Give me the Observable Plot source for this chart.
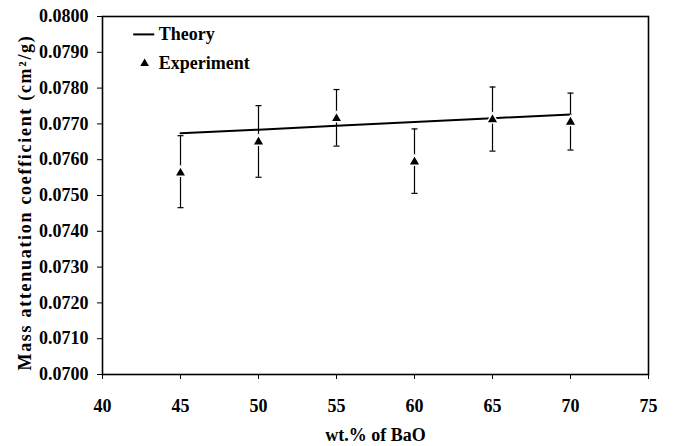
<!DOCTYPE html>
<html><head><meta charset="utf-8">
<script src="https://cdn.jsdelivr.net/npm/d3@7"></script>
<script src="https://cdn.jsdelivr.net/npm/@observablehq/plot@0.6"></script>
<style>body{margin:0;background:#fff}</style>
</head><body><div id="chart"></div>
<script>
const bao = [45, 50, 55, 60, 65, 70];
const theory = [0.07674, 0.07684, 0.07695, 0.07705, 0.07716, 0.07726];
const experiment = [0.07563, 0.07650, 0.07715, 0.07594, 0.07712, 0.07705];
const errLow = [0.07466, 0.07551, 0.07638, 0.07506, 0.07624, 0.07627];
const errHigh = [0.07667, 0.07751, 0.07796, 0.07686, 0.07803, 0.07786];
const xTicks = [40, 45, 50, 55, 60, 65, 70, 75];
const yTicks = [0.0700, 0.0710, 0.0720, 0.0730, 0.0740, 0.0750, 0.0760, 0.0770, 0.0780, 0.0790, 0.0800];

const rows = bao.map((x, i) => ({x, theory: theory[i], exp: experiment[i], lo: errLow[i], hi: errHigh[i]}));
const capSymbol = {draw(ctx, size) { const w = Math.sqrt(size); ctx.moveTo(-w, 0); ctx.lineTo(w, 0); }};
const font = "Liberation Serif, Times New Roman, serif";

const chart = Plot.plot({
  width: 673, height: 446,
  marginLeft: 102, marginRight: 25, marginTop: 16, marginBottom: 72,
  style: {fontFamily: font, fontWeight: "bold", fontSize: "18px", background: "white"},
  x: {domain: [40, 75]},
  y: {domain: [0.07, 0.08]},
  marks: [
    Plot.frame({stroke: "black", strokeWidth: 1.6}),
    Plot.axisX({ticks: xTicks, tickSize: 5, tickPadding: 20, tickFormat: d3.format("d"), fontSize: 18,
      label: "wt.% of BaO", labelAnchor: "center", labelArrow: "none", labelOffset: 66}),
    Plot.axisY({ticks: yTicks, tickSize: 5, tickPadding: 9, tickFormat: d3.format(".4f"), fontSize: 18,
      label: null}),
    Plot.text(["Mass attenuation coefficient (cm²/g)"], {frameAnchor: "left", dx: -77, dy: 7, rotate: -90, fontSize: 18,
      textAnchor: "middle"}),
    Plot.line(rows, {x: "x", y: "theory", stroke: "black", strokeWidth: 2}),
    Plot.ruleX(rows, {x: "x", y1: "lo", y2: "hi", stroke: "black", strokeWidth: 1.2}),
    Plot.dot(rows, {x: "x", y: "lo", symbol: capSymbol, r: 1.7, stroke: "black", strokeWidth: 1.2}),
    Plot.dot(rows, {x: "x", y: "hi", symbol: capSymbol, r: 1.7, stroke: "black", strokeWidth: 1.2}),
    Plot.dot(rows, {x: "x", y: "exp", symbol: "triangle", r: 4.3, fill: "black", stroke: "white", strokeWidth: 1.5}),
    // legend
    Plot.ruleY([0], {x1: 42.0, x2: 43.35, y: () => 0.07950, stroke: "black", strokeWidth: 2}),
    Plot.text(["Theory"], {x: () => 43.6, y: () => 0.07950, textAnchor: "start", fontSize: 18}),
    Plot.dot([0], {x: () => 42.7, y: () => 0.07869, symbol: "triangle", r: 3.2, fill: "black"}),
    Plot.text(["Experiment"], {x: () => 43.6, y: () => 0.07869, textAnchor: "start", fontSize: 18})
  ]
});
chart.querySelectorAll("text").forEach(t => { if (t.textContent.startsWith("Mass")) t.setAttribute("letter-spacing", "1.7"); });
document.getElementById("chart").append(chart);
</script>
</body></html>
